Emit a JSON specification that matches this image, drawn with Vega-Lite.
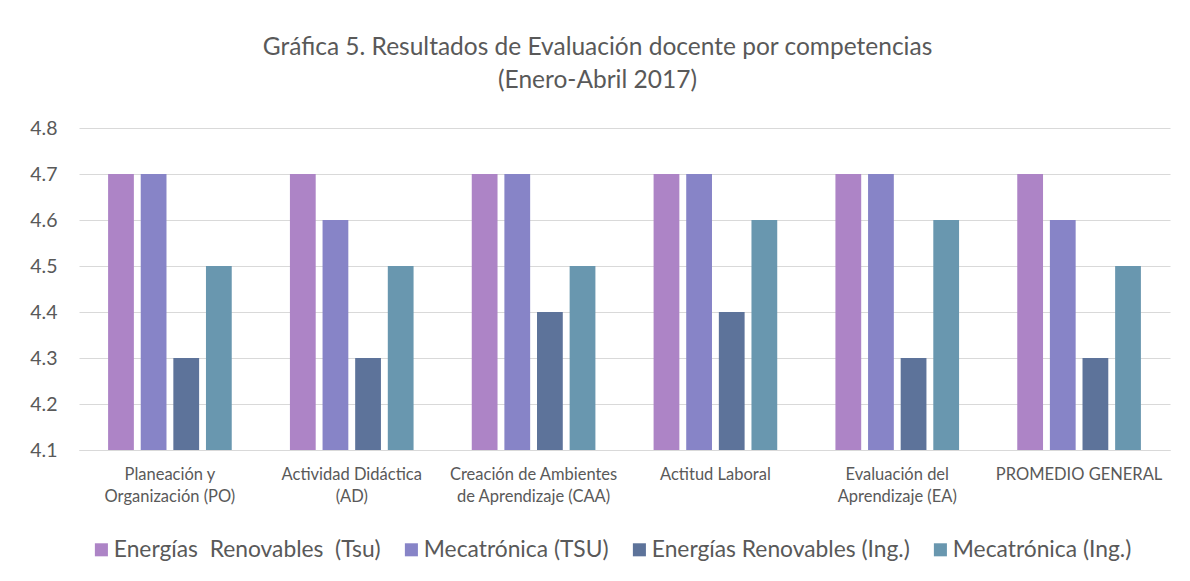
{
  "$schema": "https://vega.github.io/schema/vega-lite/v6.json",
  "width": 1091,
  "height": 322,
  "autosize": "none",
  "padding": {"left": 79, "top": 128, "right": 20, "bottom": 131},
  "background": "white",
  "title": {
    "text": ["Gráfica 5. Resultados de Evaluación docente por competencias", "(Enero-Abril 2017)"],
    "font": "Lato",
    "fontSize": 24.5,
    "fontWeight": "normal",
    "color": "#595959",
    "anchor": "middle",
    "dx": -27,
    "offset": 25,
    "lineHeight": 33
  },
  "data": {
    "values": [
      {"cat": "Planeación y Organización (PO)", "serie": "Energías  Renovables  (Tsu)", "v": 4.7},
      {"cat": "Planeación y Organización (PO)", "serie": "Mecatrónica (TSU)", "v": 4.7},
      {"cat": "Planeación y Organización (PO)", "serie": "Energías Renovables (Ing.)", "v": 4.3},
      {"cat": "Planeación y Organización (PO)", "serie": "Mecatrónica (Ing.)", "v": 4.5},
      {"cat": "Actividad Didáctica (AD)", "serie": "Energías  Renovables  (Tsu)", "v": 4.7},
      {"cat": "Actividad Didáctica (AD)", "serie": "Mecatrónica (TSU)", "v": 4.6},
      {"cat": "Actividad Didáctica (AD)", "serie": "Energías Renovables (Ing.)", "v": 4.3},
      {"cat": "Actividad Didáctica (AD)", "serie": "Mecatrónica (Ing.)", "v": 4.5},
      {"cat": "Creación de Ambientes de Aprendizaje (CAA)", "serie": "Energías  Renovables  (Tsu)", "v": 4.7},
      {"cat": "Creación de Ambientes de Aprendizaje (CAA)", "serie": "Mecatrónica (TSU)", "v": 4.7},
      {"cat": "Creación de Ambientes de Aprendizaje (CAA)", "serie": "Energías Renovables (Ing.)", "v": 4.4},
      {"cat": "Creación de Ambientes de Aprendizaje (CAA)", "serie": "Mecatrónica (Ing.)", "v": 4.5},
      {"cat": "Actitud Laboral", "serie": "Energías  Renovables  (Tsu)", "v": 4.7},
      {"cat": "Actitud Laboral", "serie": "Mecatrónica (TSU)", "v": 4.7},
      {"cat": "Actitud Laboral", "serie": "Energías Renovables (Ing.)", "v": 4.4},
      {"cat": "Actitud Laboral", "serie": "Mecatrónica (Ing.)", "v": 4.6},
      {"cat": "Evaluación del Aprendizaje (EA)", "serie": "Energías  Renovables  (Tsu)", "v": 4.7},
      {"cat": "Evaluación del Aprendizaje (EA)", "serie": "Mecatrónica (TSU)", "v": 4.7},
      {"cat": "Evaluación del Aprendizaje (EA)", "serie": "Energías Renovables (Ing.)", "v": 4.3},
      {"cat": "Evaluación del Aprendizaje (EA)", "serie": "Mecatrónica (Ing.)", "v": 4.6},
      {"cat": "PROMEDIO GENERAL", "serie": "Energías  Renovables  (Tsu)", "v": 4.7},
      {"cat": "PROMEDIO GENERAL", "serie": "Mecatrónica (TSU)", "v": 4.6},
      {"cat": "PROMEDIO GENERAL", "serie": "Energías Renovables (Ing.)", "v": 4.3},
      {"cat": "PROMEDIO GENERAL", "serie": "Mecatrónica (Ing.)", "v": 4.5}
    ]
  },
  "mark": {"type": "bar"},
  "encoding": {
    "x": {
      "field": "cat",
      "type": "nominal",
      "sort": null,
      "scale": {"paddingInner": 0.32, "paddingOuter": 0.16},
      "axis": {
        "title": null,
        "labelAngle": 0,
        "labelFont": "Lato",
        "labelFontSize": 16.5,
        "labelColor": "#595959",
        "labelPadding": 16,
        "labelLineHeight": 22,
        "labelBaseline": "top",
        "ticks": false,
        "domainColor": "#D9D9D9",
        "domainWidth": 1,
        "labelLimit": 220,
        "labelExpr": "datum.value == 'Planeación y Organización (PO)' ? ['Planeación y', 'Organización (PO)'] : datum.value == 'Actividad Didáctica (AD)' ? ['Actividad Didáctica', '(AD)'] : datum.value == 'Creación de Ambientes de Aprendizaje (CAA)' ? ['Creación de Ambientes', 'de Aprendizaje (CAA)'] : datum.value == 'Evaluación del Aprendizaje (EA)' ? ['Evaluación del', 'Aprendizaje (EA)'] : datum.value"
      }
    },
    "xOffset": {
      "field": "serie",
      "type": "nominal",
      "sort": null,
      "scale": {"paddingInner": 0.21, "paddingOuter": 0}
    },
    "y": {
      "field": "v",
      "type": "quantitative",
      "scale": {"domain": [4.1, 4.8], "zero": false, "nice": false},
      "axis": {
        "title": null,
        "values": [4.1, 4.2, 4.3, 4.4, 4.5, 4.6, 4.7, 4.8],
        "format": ".1f",
        "labelFont": "Lato",
        "labelFontSize": 19.5,
        "labelColor": "#595959",
        "labelPadding": 22,
        "ticks": false,
        "domain": false,
        "gridColor": "#D9D9D9",
        "gridWidth": 1
      }
    },
    "y2": {"datum": 4.1},
    "color": {
      "field": "serie",
      "type": "nominal",
      "sort": null,
      "scale": {
        "domain": ["Energías  Renovables  (Tsu)", "Mecatrónica (TSU)", "Energías Renovables (Ing.)", "Mecatrónica (Ing.)"],
        "range": ["#AD84C6", "#8784C7", "#5D739A", "#6997AF"]
      },
      "legend": {
        "title": null,
        "orient": "none",
        "legendX": 11,
        "legendY": 410,
        "direction": "horizontal",
        "symbolType": "square",
        "symbolSize": 170,
        "symbolStrokeWidth": 0,
        "labelFont": "Lato",
        "labelFontSize": 22.8,
        "labelColor": "#595959",
        "labelOffset": 1,
        "columnPadding": 19,
        "labelLimit": 400,
        "labelExpr": "replace(replace(datum.label, '  ', '\u00a0 '), '  ', '\u00a0 ')"
      }
    }
  },
  "config": {
    "view": {"stroke": null}
  }
}
